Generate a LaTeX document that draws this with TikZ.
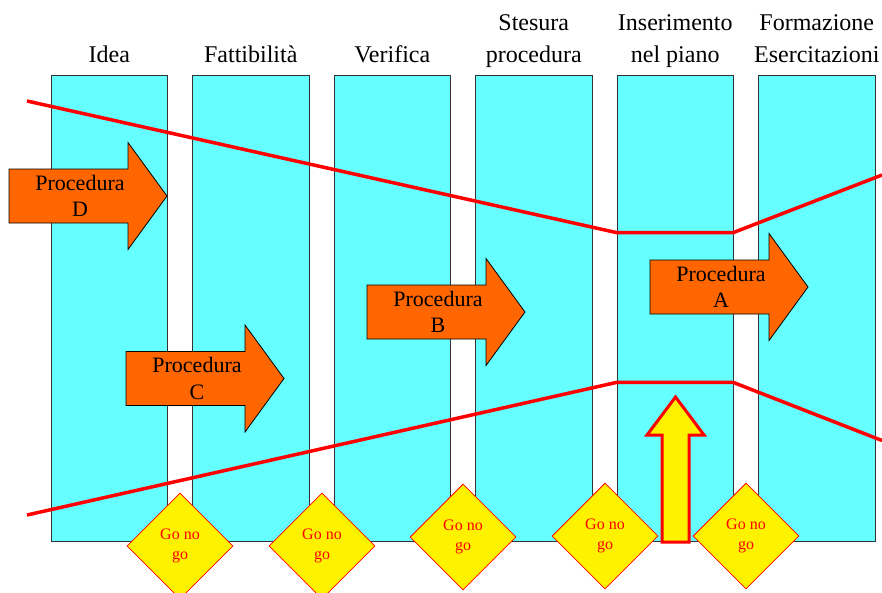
\documentclass[tikz,border=0pt]{standalone}
\usepackage{fontspec}
\setmainfont{Liberation Serif}
\usetikzlibrary{shapes.geometric}

\definecolor{phasecyan}{HTML}{66FFFF}
\definecolor{procorange}{HTML}{FF6600}

\tikzset{
  phase/.style = {draw=black!80, line width=0.8pt, fill=phasecyan, minimum width=116.5pt, minimum height=466.5pt, inner sep=0pt},
  phasetitle/.style = {anchor=south, align=center, inner sep=0pt, text depth=0pt, font=\fontsize{24}{32}\selectfont},
  funnel/.style = {draw=red, line width=3.5pt, line join=round},
  procarrow/.style = {draw=black, line width=0.8pt, fill=procorange},
  proctext/.style = {align=center, inner sep=0pt, font=\fontsize{22}{26.5}\selectfont},
  gonogo/.style = {diamond, draw=red, line width=0.8pt, fill=yellow, minimum width=106pt, minimum height=106pt, inner sep=0pt, align=center, text=red, font=\fontsize{16}{20}\selectfont}
}

\begin{document}
\begin{tikzpicture}[x=1pt, y=-1pt]
\useasboundingbox (0,0) rectangle (882,592);
\clip (0,0) rectangle (882,592);
% phases
\foreach \i/\t in {1/Idea, 2/Fattibilità, 3/Verifica, 4/{Stesura\\procedura}, 5/{Inserimento\\nel piano}, 6/{Formazione\\Esercitazioni}}{
  \node[phase] (c\i) at ({109.25+141.5*(\i-1)}, 308.25) {};
  \node[phasetitle] (t\i) at ({109.25+141.5*(\i-1)}, 63) {\t};
}
% funnel
\draw[funnel] (27,101) -- (617,232.7) -- (733,232.7) -- (882,175);
\draw[funnel] (27,515) -- (617,382.3) -- (733,382.3) -- (882,440.5);
% procedures
\draw[procarrow] (9,196) ++(0,-27) -- ++(119,0) -- ++(0,-26.5) -- ++(39,53.5) -- ++(-39,53.5) -- ++(0,-26.5) -- ++(-119,0) -- cycle;
\draw[procarrow] (126,378.5) ++(0,-27) -- ++(119,0) -- ++(0,-26.5) -- ++(39,53.5) -- ++(-39,53.5) -- ++(0,-26.5) -- ++(-119,0) -- cycle;
\draw[procarrow] (367,312) ++(0,-27) -- ++(119,0) -- ++(0,-26.5) -- ++(39,53.5) -- ++(-39,53.5) -- ++(0,-26.5) -- ++(-119,0) -- cycle;
\draw[procarrow] (650,287) ++(0,-27) -- ++(119,0) -- ++(0,-26.5) -- ++(39,53.5) -- ++(-39,53.5) -- ++(0,-26.5) -- ++(-119,0) -- cycle;
\node[proctext] (pD) at (80,196) {Procedura\\D};
\node[proctext] (pC) at (197,378.5) {Procedura\\C};
\node[proctext] (pB) at (438,312) {Procedura\\B};
\node[proctext] (pA) at (721,287) {Procedura\\A};
% input into the plan
\draw[draw=red, line width=3pt, fill=yellow] (662,542) -- (662,435) -- (647,435) -- (675.5,397) -- (704,435) -- (689,435) -- (689,542) -- cycle;
% gates
\node[gonogo] (g1) at (180,546) {Go no\\go};
\node[gonogo] (g2) at (322,546) {Go no\\go};
\node[gonogo] (g3) at (463,537) {Go no\\go};
\node[gonogo] (g4) at (605,536) {Go no\\go};
\node[gonogo] (g5) at (746,536) {Go no\\go};
\end{tikzpicture}
\end{document}
